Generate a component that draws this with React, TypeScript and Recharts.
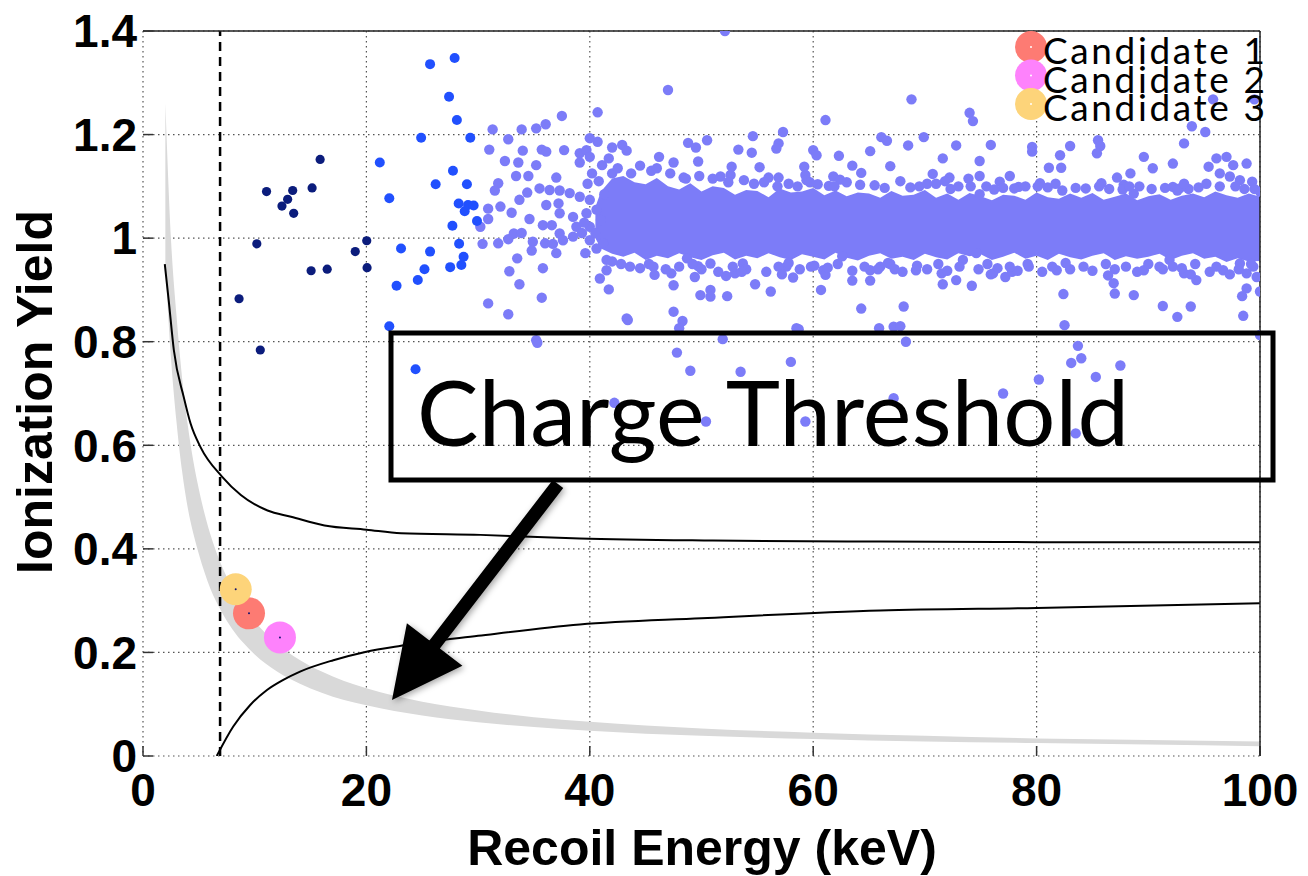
import React from "react"
import {
	Area,
	CartesianGrid,
	ComposedChart,
	Line,
	ReferenceLine,
	Scatter,
	XAxis,
	YAxis,
} from "recharts"

const W = 1308
const H = 876

const X_TICKS = [0, 20, 40, 60, 80, 100]
const Y_TICKS = [0, 0.2, 0.4, 0.6, 0.8, 1, 1.2, 1.4]

// charge threshold band: recoil energy (keV), lower and upper yield
const BAND_E = [2, 2.5, 3, 3.5, 4, 4.5, 5, 6, 7, 8, 9, 10, 12, 14, 16, 18, 20, 25, 30, 35, 40, 50, 60, 70, 80, 90, 100]
const BAND_LO = [0.95, 0.77, 0.645, 0.55, 0.48, 0.43, 0.39, 0.325, 0.28, 0.245, 0.218, 0.196, 0.163, 0.14, 0.122, 0.108, 0.098, 0.078, 0.065, 0.056, 0.049, 0.039, 0.033, 0.028, 0.025, 0.022, 0.019]
const BAND_HI = [1.26, 1.0, 0.85, 0.73, 0.64, 0.57, 0.515, 0.43, 0.37, 0.325, 0.29, 0.26, 0.217, 0.186, 0.163, 0.145, 0.131, 0.105, 0.088, 0.075, 0.066, 0.053, 0.045, 0.039, 0.034, 0.031, 0.028]

// nuclear recoil acceptance limits
const UPPER_LIMIT = [
	[1.95, 0.95], [2.3, 0.88], [2.76, 0.784], [3.66, 0.692], [4.26, 0.642], [5.16, 0.596],
	[7.05, 0.54], [8.76, 0.504], [11.15, 0.474], [13.25, 0.462], [16.25, 0.445], [20, 0.437],
	[23.1, 0.43], [30.2, 0.427], [39.1, 0.42], [51, 0.416], [66, 0.414], [80, 0.413], [100, 0.413],
]
const LOWER_LIMIT = [
	[6.6, 0], [8.08, 0.057], [9.58, 0.098], [11.07, 0.127], [12.56, 0.147], [14.06, 0.163],
	[17.04, 0.185], [19.9, 0.201], [23.1, 0.213], [30, 0.232], [39.1, 0.254], [50, 0.266],
	[66, 0.281], [80, 0.286], [100, 0.295],
]

const THRESHOLD_KEV = 6.9

// densest part of the electron recoil population
const CORE_E = [
	40.5, 41, 42, 43, 44, 45, 46, 47, 48, 49, 50, 51, 52, 53, 54, 55, 56, 57, 58, 59, 60,
	61, 62, 63, 64, 65, 66, 67, 68, 69, 70, 71, 72, 73, 74, 75, 76, 77, 78, 79, 80,
	81, 82, 83, 84, 85, 86, 87, 88, 89, 90, 91, 92, 93, 94, 95, 96, 97, 98, 99, 100,
]
const CORE_HI = [
	1.06, 1.09, 1.115, 1.12, 1.108, 1.104, 1.116, 1.1, 1.094, 1.106, 1.09, 1.1,
	1.097, 1.084, 1.093, 1.091, 1.079, 1.096, 1.088, 1.09, 1.097,
	1.083, 1.092, 1.081, 1.088, 1.086, 1.078, 1.091, 1.082, 1.084, 1.093,
	1.078, 1.086, 1.074, 1.087, 1.081, 1.073, 1.084, 1.082, 1.074, 1.088,
	1.079, 1.076, 1.086, 1.078, 1.087, 1.074, 1.08, 1.086, 1.073, 1.081,
	1.085, 1.074, 1.082, 1.086, 1.079, 1.09, 1.083, 1.078, 1.086, 1.08,
]
const CORE_LO = [
	1.0, 0.98, 0.97, 0.964, 0.972, 0.958, 0.966, 0.961, 0.971, 0.963, 0.958, 0.967,
	0.972, 0.959, 0.966, 0.961, 0.971, 0.963, 0.958, 0.969, 0.964,
	0.959, 0.972, 0.962, 0.957, 0.966, 0.971, 0.96, 0.964, 0.958, 0.97,
	0.963, 0.959, 0.971, 0.965, 0.969, 0.958, 0.964, 0.972, 0.96, 0.966,
	0.958, 0.97, 0.963, 0.959, 0.966, 0.971, 0.958, 0.965, 0.96, 0.964,
	0.97, 0.958, 0.966, 0.971, 0.96, 0.964, 0.954, 0.961, 0.955, 0.956,
]

// events below 20 keV
const LOW_EVENTS = [
	[15.86, 1.152], [11.06, 1.09], [13.4, 1.092], [12.95, 1.075], [12.44, 1.062], [13.49, 1.048],
	[15.14, 1.097], [10.19, 0.989], [20.03, 0.995], [19.0, 0.974], [20.06, 0.943], [15.05, 0.937],
	[16.49, 0.94], [8.6, 0.883], [10.5, 0.784],
]

// events 20-30 keV
const MID_EVENTS = [
	[25.7, 1.336], [27.9, 1.348], [27.4, 1.273], [28.1, 1.228], [24.9, 1.194], [29.3, 1.194],
	[21.2, 1.146], [27.75, 1.13], [26.2, 1.104], [29.0, 1.104], [22.05, 1.077], [28.26, 1.067],
	[28.8, 1.052], [29.1, 1.064], [29.6, 1.063], [29.9, 1.033], [27.7, 1.024], [23.1, 0.98],
	[25.7, 0.974], [28.3, 0.989], [28.7, 0.964], [25.2, 0.94], [27.5, 0.944], [28.5, 0.948],
	[22.7, 0.908], [24.6, 0.919], [22.05, 0.83], [24.4, 0.747],
]

// events above 30 keV
const HIGH_EVENTS = [
	[47.0, 1.286], [40.7, 1.243], [37.5, 1.236], [36.05, 1.22], [35.2, 1.212], [33.9, 1.21], [31.3, 1.21],
	[32.7, 1.191], [40.0, 1.193], [40.7, 1.186], [31.0, 1.171], [34.0, 1.169], [35.7, 1.171], [36.1, 1.167],
	[37.7, 1.17], [39.1, 1.164], [39.7, 1.17], [42.0, 1.175], [42.9, 1.18], [43.3, 1.169], [32.4, 1.149],
	[33.6, 1.146], [35.2, 1.141], [39.1, 1.146], [40.0, 1.157], [41.1, 1.141], [41.7, 1.154], [46.2, 1.157],
	[47.5, 1.146], [33.4, 1.12], [34.5, 1.12], [37.0, 1.117], [31.8, 1.106], [31.5, 1.092], [35.5, 1.096],
	[36.4, 1.093], [37.3, 1.092], [38.2, 1.087], [39.1, 1.08], [40.0, 1.074], [34.4, 1.088], [33.7, 1.074],
	[30.9, 1.057], [32.0, 1.061], [33.0, 1.049], [30.9, 1.037], [34.6, 1.037], [36.1, 1.064], [37.2, 1.067],
	[37.3, 1.048], [35.8, 1.025], [36.6, 1.025], [38.5, 1.041], [38.8, 1.022], [38.5, 1.003], [39.7, 1.048],
	[40.0, 1.022], [40.0, 0.996], [30.2, 1.022], [33.2, 1.009], [33.9, 1.01], [37.3, 1.009], [37.6, 0.996],
	[30.4, 0.989], [31.8, 0.99], [32.7, 0.998], [34.9, 0.993], [36.0, 0.99], [36.7, 0.989], [34.8, 0.976],
	[37.0, 0.971], [39.6, 0.971], [40.6, 0.98], [33.5, 0.961], [35.8, 0.942], [32.8, 0.936], [41.5, 0.958],
	[41.5, 0.938], [40.9, 0.922], [41.7, 0.901], [45.7, 0.945], [45.8, 0.929], [47.3, 0.932], [47.5, 0.909],
	[33.7, 0.911], [35.7, 0.885], [30.9, 0.874], [32.7, 0.853], [43.3, 0.845], [47.5, 0.858], [48.3, 0.84],
	[48.0, 0.826], [35.2, 0.803], [40.8, 1.11], [41.3, 1.085], [40.6, 1.055], [41.0, 1.035], [40.5, 1.01],
	[41.2, 0.99], [42.0, 1.125], [39.5, 1.03], [39.8, 1.105], [40.2, 1.125], [39.3, 1.01],
	[52.1, 1.4], [68.8, 1.268], [74.0, 1.242], [74.3, 1.226], [61.1, 1.228], [57.3, 1.205], [54.6, 1.197],
	[66.1, 1.195], [66.6, 1.188], [69.9, 1.195], [48.8, 1.184], [49.5, 1.175], [50.5, 1.189], [56.9, 1.183],
	[56.7, 1.173], [53.3, 1.171], [54.5, 1.165], [60.0, 1.17], [60.3, 1.16], [65.1, 1.168], [68.5, 1.179],
	[72.8, 1.179], [62.3, 1.159], [71.6, 1.154], [49.7, 1.148], [55.2, 1.137], [52.7, 1.138], [59.2, 1.138],
	[63.5, 1.14], [64.3, 1.126], [66.9, 1.139], [70.7, 1.124], [72.2, 1.117], [73.9, 1.115], [52.6, 1.122],
	[51.7, 1.119], [48.4, 1.117], [59.3, 1.122], [59.4, 1.112], [56.0, 1.117], [56.9, 1.117], [61.8, 1.119],
	[62.4, 1.113], [61.4, 1.101],
	[48.7, 0.961], [49.7, 0.946], [49.4, 0.925], [50.8, 0.951], [52.2, 0.927], [53.0, 0.932], [53.7, 0.951],
	[54.8, 0.911], [56.2, 0.897], [57.6, 0.945], [58.2, 0.924], [59.8, 0.945], [60.9, 0.938], [61.1, 0.929],
	[60.7, 0.9], [62.6, 0.965], [63.5, 0.918], [65.1, 0.938], [65.1, 0.918], [66.0, 0.945], [66.9, 0.95],
	[69.2, 0.938], [71.5, 0.932], [71.6, 0.911], [72.8, 0.919], [74.2, 0.908], [49.9, 0.89], [50.8, 0.9],
	[50.8, 0.887], [52.3, 0.888], [64.3, 0.864], [68.1, 0.868], [65.9, 0.826], [67.2, 0.829], [67.8, 0.83],
	[58.5, 0.826],
	[95.8, 1.268], [99.5, 1.268], [93.9, 1.216], [95.1, 1.205], [93.2, 1.183], [75.9, 1.18], [79.6, 1.176],
	[79.6, 1.167], [83.0, 1.178], [85.5, 1.189], [85.7, 1.178], [85.4, 1.164], [82.1, 1.16], [89.6, 1.157],
	[92.2, 1.144], [96.1, 1.154], [97.0, 1.157], [97.6, 1.141], [98.8, 1.144], [74.9, 1.149], [81.1, 1.136],
	[82.2, 1.136], [90.4, 1.135], [95.4, 1.138], [74.9, 1.12], [77.6, 1.12], [76.7, 1.109], [78.4, 1.099],
	[88.4, 1.125], [87.2, 1.117], [96.4, 1.125], [97.3, 1.119], [98.2, 1.112], [99.3, 1.109], [80.3, 1.106],
	[85.8, 1.106], [92.2, 1.099], [92.8, 1.096], [87.8, 1.103], [88.7, 1.086], [74.9, 1.085],
	[73.4, 0.958], [74.6, 0.971], [76.1, 0.932], [77.2, 0.925], [77.8, 0.935], [79.3, 0.945], [81.8, 0.938],
	[86.9, 0.913], [87.0, 0.893], [82.4, 0.892], [88.7, 0.89], [89.6, 0.938], [91.0, 0.945], [91.9, 0.958],
	[93.2, 0.932], [94.3, 0.919], [96.7, 0.938], [98.2, 0.951], [98.8, 0.932], [99.4, 0.945], [98.8, 0.903],
	[98.4, 0.888], [100, 0.897], [91.3, 0.869], [93.8, 0.868], [92.6, 0.848], [98.5, 0.85], [82.5, 0.832],
	[100, 0.813],
	[35.3, 0.798], [43.4, 0.842], [47.8, 0.779], [49.0, 0.744], [51.9, 0.805], [53.5, 0.742], [50.4, 0.646],
	[42.2, 0.682], [58.0, 0.761], [58.7, 0.824], [59.3, 0.646], [68.3, 0.8], [67.2, 0.691], [77.0, 0.7],
	[80.2, 0.727], [83.7, 0.792], [83.1, 0.759], [84.0, 0.768], [85.3, 0.732], [87.5, 0.754], [83.5, 0.623],
	// along the upper edge of the dense core
	[42.5, 1.135], [44.5, 1.14], [47.2, 1.125], [51, 1.115], [53.8, 1.112], [55.6, 1.108], [57.8, 1.105],
	[63, 1.108], [65.5, 1.102], [67.8, 1.11], [69.5, 1.1], [71, 1.105], [73, 1.1], [75.5, 1.1], [77, 1.097],
	[79, 1.1], [81, 1.098], [83.5, 1.097], [86.5, 1.095], [89.2, 1.1], [91.5, 1.097], [93.6, 1.095],
	[95.2, 1.105], [97.8, 1.1], [99.5, 1.095],
	[43.7, 1.125], [45.5, 1.13], [48.6, 1.115], [49.8, 1.12], [52.4, 1.108], [54.7, 1.105], [56.8, 1.1],
	[58.6, 1.1], [60.4, 1.104], [61.9, 1.1], [64.2, 1.103], [66.4, 1.097], [68.7, 1.098], [70.2, 1.105],
	[72.3, 1.095], [74.1, 1.1], [76.2, 1.094], [78, 1.096], [80.1, 1.1], [82.3, 1.092], [84.4, 1.096],
	[85.6, 1.1], [87.7, 1.094], [90.3, 1.095], [92.6, 1.092], [94.5, 1.098], [96.4, 1.1], [98.6, 1.095],
	[100, 1.09], [46, 1.135], [59.7, 1.108], [71.8, 1.11], [81.7, 1.105], [88.3, 1.1], [93.2, 1.105],
	// along the lower edge of the dense core
	[42.8, 0.95], [44.5, 0.942], [46.8, 0.94], [50, 0.94], [51.5, 0.935], [54, 0.94], [55.8, 0.935],
	[58.8, 0.94], [61.3, 0.943], [63.5, 0.937], [65.8, 0.94], [68, 0.935], [70.2, 0.94], [72, 0.937],
	[74.8, 0.94], [76.5, 0.942], [78.3, 0.937], [80.5, 0.935], [83, 0.94], [85, 0.937], [87, 0.94],
	[89, 0.935], [91.3, 0.94], [93, 0.942], [95.5, 0.935], [97.3, 0.93], [99.7, 0.925],
	[42, 0.955], [43.6, 0.945], [45.3, 0.95], [48, 0.945], [49.2, 0.95], [52.8, 0.945], [53.6, 0.935],
	[56.9, 0.945], [57.8, 0.952], [60.1, 0.947], [62.2, 0.95], [64.6, 0.945], [66.7, 0.952], [67.3, 0.94],
	[69.3, 0.947], [71.2, 0.95], [73.1, 0.945], [75.6, 0.95], [77.6, 0.945], [79.2, 0.95], [81.4, 0.945],
	[82.6, 0.952], [84.2, 0.945], [86.2, 0.95], [88, 0.945], [90, 0.95], [92.2, 0.945], [94.2, 0.95],
	[96.1, 0.945], [98.1, 0.94], [99.2, 0.95], [57.2, 0.93], [75.9, 0.93], [86.4, 0.928], [93.8, 0.93],
]

const CANDIDATE_NAMES = ["Candidate 1", "Candidate 2", "Candidate 3"]
const CANDIDATE_E = [9.49, 12.26, 8.3]
const CANDIDATE_Y = [0.2755, 0.229, 0.322]
const CANDIDATE_COLORS = ["#fd7b73", "#fe82fc", "#fdd47a"]

const NAVY = "#0b1c7c"
const BLUE = "#2150fe"
const LILAC = "#7c7cf8"

const toPoints = (pts: number[][]) => pts.map(([x, y]) => ({ x, y }))

const bandRows = BAND_E.map((x, i) => ({ x, range: [BAND_LO[i], BAND_HI[i]] }))
const coreRows = CORE_E.map((x, i) => ({ x, range: [CORE_LO[i], CORE_HI[i]] }))

const TICK_STYLE = {
	fontSize: 46,
	fontWeight: 700,
	fill: "#000",
	fontFamily: "'Liberation Sans', Arial, sans-serif",
}
const TICK_LINE = { stroke: "#333", strokeWidth: 1.5 }

const fmtY = (v: number) => (v === 0 ? "0" : v === 1 ? "1" : v.toFixed(1))

const dot = (r: number, fill: string) =>
	// eslint-disable-next-line @typescript-eslint/no-explicit-any
	(p: any) => <circle cx={p.cx} cy={p.cy} r={r} fill={fill} />

const candidateDot = (fill: string) =>
	// eslint-disable-next-line @typescript-eslint/no-explicit-any
	(p: any) => (
		<g>
			<circle cx={p.cx} cy={p.cy} r={16} fill={fill} />
			<circle cx={p.cx} cy={p.cy} r={1} fill="#14146e" />
		</g>
	)

// callout arrow, tail at the box and head on the band
const ARROW_TAIL = [558, 484]
const ARROW_TIP = [392, 700]

function arrowPolygon() {
	const [tx, ty] = ARROW_TAIL
	const [hx, hy] = ARROW_TIP
	const len = Math.hypot(hx - tx, hy - ty)
	const ux = (hx - tx) / len
	const uy = (hy - ty) / len
	const nx = -uy
	const ny = ux
	const shaft = 6.6
	const head = 35
	const headLen = 70
	const bx = hx - ux * headLen
	const by = hy - uy * headLen
	const p = [
		[tx + nx * shaft, ty + ny * shaft],
		[bx + nx * shaft, by + ny * shaft],
		[bx + nx * head, by + ny * head],
		[hx, hy],
		[bx - nx * head, by - ny * head],
		[bx - nx * shaft, by - ny * shaft],
		[tx - nx * shaft, ty - ny * shaft],
	]
	return p.map(([x, y]) => `${x},${y}`).join(" ")
}

function Annotations() {
	const legendY = [47, 75.5, 104]
	return (
		<svg
			width={W}
			height={H}
			style={{ position: "absolute", left: 0, top: 0, pointerEvents: "none" }}>
			<defs>
				<filter id="soft" x="-20%" y="-20%" width="140%" height="140%">
					<feDropShadow dx="2" dy="2" stdDeviation="3" floodColor="#000" floodOpacity="0.35" />
				</filter>
			</defs>
			{/* legend */}
			{CANDIDATE_NAMES.map((name, i) => (
				<g key={name}>
					<circle cx={1031} cy={legendY[i]} r={16} fill={CANDIDATE_COLORS[i]} />
					<circle cx={1031} cy={legendY[i]} r={1} fill="#fff" />
				</g>
			))}
			{CANDIDATE_NAMES.map((name, i) => (
				<text
					key={`t-${name}`}
					x={1043}
					y={legendY[i] + 17}
					fontFamily="Lato, sans-serif"
					fontSize={37}
					textLength={222}
					lengthAdjust="spacing"
					fill="#000">
					{name}
				</text>
			))}
			{/* threshold callout */}
			<rect x={391} y={333} width={882} height={147} fill="none" stroke="#000" strokeWidth={5} />
			<text
				x={417}
				y={446}
				fontFamily="Lato, sans-serif"
				fontSize={92}
				textLength={712}
				lengthAdjust="spacing"
				fill="#000">
				Charge Threshold
			</text>
			<polygon points={arrowPolygon()} fill="#000" filter="url(#soft)" />
			{/* axis titles */}
			<text
				x={702}
				y={865}
				textAnchor="middle"
				fontFamily="'Liberation Sans', Arial, sans-serif"
				fontWeight={700}
				fontSize={50}
				fill="#000">
				Recoil Energy (keV)
			</text>
			<text
				x={52}
				y={392}
				transform="rotate(-90 52 392)"
				textAnchor="middle"
				fontFamily="'Liberation Sans', Arial, sans-serif"
				fontWeight={700}
				fontSize={50}
				fill="#000">
				Ionization Yield
			</text>
		</svg>
	)
}

export default function App() {
	return (
		<div style={{ position: "absolute", left: 0, top: 0, width: W, height: H, background: "#fff" }}>
			<ComposedChart width={W} height={H} margin={{ top: 30, right: 47, bottom: 60, left: 43 }}>
				<CartesianGrid stroke="#555" strokeWidth={1.2} strokeDasharray="1.5 3.5" />
				<XAxis
					dataKey="x"
					type="number"
					domain={[0, 100]}
					ticks={X_TICKS}
					interval={0}
					allowDataOverflow
					height={60}
					axisLine={false}
					tickLine={TICK_LINE}
					tickSize={-10}
					tickMargin={27}
					tick={TICK_STYLE}
				/>
				<XAxis
					xAxisId="top"
					orientation="top"
					dataKey="x"
					type="number"
					domain={[0, 100]}
					ticks={X_TICKS}
					interval={0}
					height={1}
					axisLine={{ stroke: "#222", strokeWidth: 1.5 }}
					tickLine={TICK_LINE}
					tickSize={-10}
					tick={false}
				/>
				<YAxis
					type="number"
					domain={[0, 1.4]}
					ticks={Y_TICKS}
					interval={0}
					allowDataOverflow
					width={100}
					axisLine={false}
					tickLine={TICK_LINE}
					tickSize={-10}
					tickMargin={16}
					tick={TICK_STYLE}
					tickFormatter={fmtY}
				/>
				<YAxis
					yAxisId="right"
					orientation="right"
					type="number"
					domain={[0, 1.4]}
					ticks={Y_TICKS}
					interval={0}
					width={1}
					axisLine={{ stroke: "#222", strokeWidth: 1.5 }}
					tickLine={TICK_LINE}
					tickSize={-10}
					tick={false}
				/>
				<Area
					data={bandRows}
					dataKey="range"
					type="monotone"
					stroke="none"
					fill="#d9d9d9"
					fillOpacity={1}
					isAnimationActive={false}
					activeDot={false}
				/>
				<Area
					data={coreRows}
					dataKey="range"
					type="linear"
					stroke="none"
					fill={LILAC}
					fillOpacity={1}
					isAnimationActive={false}
					activeDot={false}
				/>
				<Line
					data={toPoints(UPPER_LIMIT)}
					dataKey="y"
					type="monotone"
					stroke="#000"
					strokeWidth={2}
					dot={false}
					activeDot={false}
					isAnimationActive={false}
				/>
				<Line
					data={toPoints(LOWER_LIMIT)}
					dataKey="y"
					type="monotone"
					stroke="#000"
					strokeWidth={2}
					dot={false}
					activeDot={false}
					isAnimationActive={false}
				/>
				<ReferenceLine x={THRESHOLD_KEV} stroke="#000" strokeWidth={2.5} strokeDasharray="9 6" />
				<Scatter data={toPoints(HIGH_EVENTS)} dataKey="y" shape={dot(5.2, LILAC)} isAnimationActive={false} />
				<Scatter data={toPoints(MID_EVENTS)} dataKey="y" shape={dot(5, BLUE)} isAnimationActive={false} />
				<Scatter data={toPoints(LOW_EVENTS)} dataKey="y" shape={dot(4.6, NAVY)} isAnimationActive={false} />
				{CANDIDATE_NAMES.map((name, i) => (
					<Scatter
						key={name}
						name={name}
						data={[{ x: CANDIDATE_E[i], y: CANDIDATE_Y[i] }]}
						dataKey="y"
						shape={candidateDot(CANDIDATE_COLORS[i])}
						isAnimationActive={false}
					/>
				))}
			</ComposedChart>
			<Annotations />
		</div>
	)
}
